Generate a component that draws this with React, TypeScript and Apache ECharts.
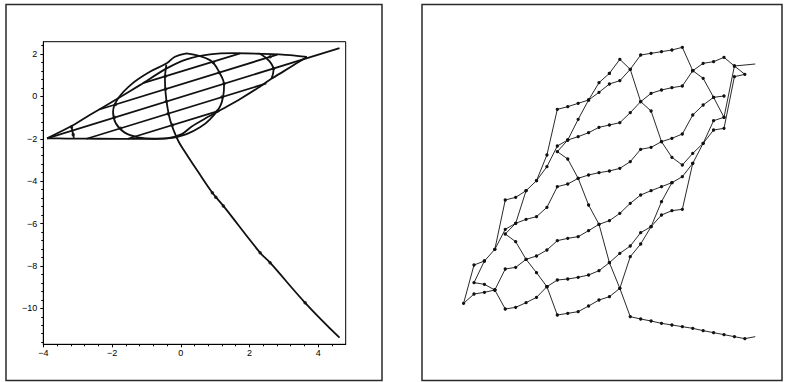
import React, { useEffect, useRef } from 'react';
import * as echarts from 'echarts';

// ---------- Left panel: tick values ----------
const xTickValues = [-4, -2, 0, 2, 4];
const yTickValues = [-10, -8, -6, -4, -2, 0, 2];
const xMinorTicks = [-3.6, -3.2, -2.8, -2.4, -1.6, -1.2, -0.8, -0.4, 0.4, 0.8, 1.2, 1.6, 2.4, 2.8, 3.2, 3.6, 4.4];
const yMinorTicks = [2.4, 1.6, 1.2, 0.8, 0.4, -0.4, -0.8, -1.2, -1.6, -2.4, -2.8, -3.2, -3.6, -4.4, -4.8, -5.2, -5.6,
  -6.4, -6.8, -7.2, -7.6, -8.4, -8.8, -9.2, -9.6, -10.4, -10.8, -11.2, -11.6];

// ---------- Left panel: curves (x, y) ----------
const outerUpper = [[-3.89, -1.98], [-3.18, -1.40], [-2.65, -0.88], [-1.87, -0.14], [-1.19, 0.53], [-0.41, 1.32],
  [0.17, 1.75], [0.85, 1.98], [1.53, 2.04], [2.31, 2.01], [3.18, 1.95], [3.67, 1.86]];
const outerLower = [[3.67, 1.86], [3.38, 1.57], [2.99, 1.18], [2.65, 0.84], [2.21, 0.36], [1.73, -0.12], [1.24, -0.57],
  [0.76, -1.0], [0.32, -1.42], [0.03, -1.78], [-0.41, -1.98], [-1.19, -2.01], [-2.36, -2.0], [-3.33, -1.99], [-3.89, -1.98]];
const innerLoop = [[0.17, 2.03], [0.85, 1.71], [1.14, 1.08], [1.26, 0.53], [1.24, 0.06], [1.14, -0.49], [0.85, -1.08],
  [0.56, -1.46], [0.17, -1.78], [-0.31, -1.97], [-0.80, -2.0], [-1.19, -1.95], [-1.63, -1.71], [-1.89, -1.27],
  [-1.97, -0.72], [-1.82, -0.09], [-1.43, 0.58], [-0.90, 1.16], [-0.41, 1.56], [-0.17, 1.87], [0.17, 2.03]];
const tailCurve = [[-0.42, 1.50], [-0.46, 0.77], [-0.44, 0.14], [-0.39, -0.49], [-0.31, -1.12], [-0.19, -1.67],
  [-0.06, -2.14], [0.12, -2.61], [0.50, -3.55], [0.92, -4.55], [1.24, -5.17], [2.31, -7.38], [2.60, -7.85],
  [3.62, -9.74], [4.62, -11.39]];
const tailDots = [[0.92, -4.55], [1.02, -4.76], [1.24, -5.17], [2.31, -7.38], [2.60, -7.85], [3.62, -9.74]];
const crossingDots = [[-0.45, 0.95], [-0.44, 0.35], [-0.42, -0.24], [-0.37, -0.82], [-0.24, -1.35],
  [-1.9, -0.38], [-1.93, -0.99], [-1.75, -1.5], [0.95, 1.6], [1.12, 1.13], [1.26, 0.6], [1.2, -0.03],
  [1.06, -0.7], [2.7, 1.32], [2.6, 1.87], [-3.18, -1.45], [-3.13, -1.8]];
const rightArc = [[2.31, 2.01], [2.58, 1.66], [2.70, 1.24], [2.64, 0.84]];
const leftArc = [[-3.18, -1.40], [-3.15, -1.67], [-3.11, -1.96]];
const chordMain = [[-3.89, -1.98], [4.62, 2.28]];
const chordUp1 = [[-2.37, -0.62], [2.81, 1.97]];
const chordUp2 = [[-1.10, 0.62], [1.73, 2.03]];
const chordDown1 = [[-2.74, -2.0], [2.49, 0.61]];
const chordDown2 = [[-1.54, -2.0], [1.13, -0.67]];

// ---------- Right panel: mesh polylines (column k, vertical position) ----------
const meshA = [[-2, 542], [-1, 465], [0, 328], [1, 320], [2, 310], [3, 300], [4, 277], [5, 252], [6, 242], [7, 208],
  [8, 165], [9, 160], [10, 155], [11, 150], [12, 142], [13, 212], [14, 190], [15, 185], [16, 172], [17, 198],
  [18, 223], [17, 230], [16, 385], [15, 390], [14, 430], [13, 490], [12, 628], [11, 632], [10, 645], [9, 680],
  [8, 698], [7, 738], [6, 760], [5, 788], [4, 812], [3, 825], [2, 832], [1, 837], [0, 840], [-1, 860]];
const meshB = [[5, 220], [4, 248], [3, 300], [2, 358], [1, 420], [0, 455], [1, 477], [2, 535], [3, 615], [4, 673],
  [5, 788], [6, 865], [7, 950], [8, 957], [9, 963], [10, 970], [11, 975], [12, 980], [13, 985], [14, 992],
  [15, 998], [16, 1004], [17, 1010], [18, 1016], [19, 1010]];
const meshC = [[5, 220], [6, 178], [7, 208], [8, 305], [9, 333], [10, 425], [11, 472], [12, 495], [13, 460],
  [14, 430], [15, 362], [16, 352], [17, 198], [19, 192]];
const meshD = [[13, 212], [12, 258], [11, 263], [10, 270], [9, 280], [8, 305], [7, 338], [6, 368], [5, 375],
  [4, 382], [3, 398], [2, 410], [1, 420], [0, 438], [-1, 500], [-2, 542], [-3, 572], [-4, 592], [-5, 600],
  [-6, 748], [-7, 783], [-8, 795], [-9, 910], [-8, 882], [-7, 877], [-6, 870], [-5, 927], [-4, 922], [-3, 908],
  [-2, 892], [-1, 860], [0, 945], [1, 940], [2, 935], [3, 918], [4, 900], [5, 890], [6, 865], [7, 770], [8, 732],
  [9, 680], [10, 605], [11, 548], [12, 530], [13, 490]];
const meshE = [[-6, 748], [-5, 688], [-4, 670], [-3, 658], [-2, 650], [-1, 622], [0, 560], [1, 552], [2, 535],
  [3, 525], [4, 518], [5, 513], [6, 505], [7, 485], [8, 448], [9, 442], [10, 425], [11, 415], [12, 402], [13, 345],
  [14, 315], [15, 292], [16, 288]];
const meshF = [[-6, 870], [-5, 807], [-4, 802], [-3, 778], [-2, 768], [-1, 750], [0, 722], [1, 715], [2, 710],
  [3, 692], [4, 673], [5, 662], [6, 640], [7, 610], [8, 585], [9, 572], [10, 560], [11, 548]];
const meshG = [[-3, 572], [-4, 670], [-5, 702], [-4, 725], [-3, 778], [-2, 818], [-1, 860]];
const meshH = [[-6, 870], [-7, 853], [-8, 848], [-7, 783]];
const meshI = [[13, 212], [14, 235], [15, 292], [16, 352]];
const meshLines = [meshA, meshB, meshC, meshD, meshE, meshF, meshG, meshH, meshI];
const lastColumn = 19;

const minus = (v: number) => String(v).replace('-', '\u2212');

export default function App() {
  const ref = useRef<HTMLDivElement>(null);
  useEffect(() => {
    if (!ref.current) return;
    const chart = echarts.init(ref.current, null, { renderer: 'svg' });
    const ink = '#111';
    const leftLine = (data: number[][], smooth: number | boolean) => ({
      type: 'line', xAxisIndex: 0, yAxisIndex: 0, data, smooth, symbol: 'none',
      lineStyle: { color: ink, width: 1.8 }, silent: true,
    });
    const meshSeries = meshLines.map((pts) => ({
      type: 'line', xAxisIndex: 2, yAxisIndex: 2,
      data: pts.map((p) => (p[0] === lastColumn ? { value: p, symbol: 'none' } : p)),
      symbol: 'circle', symbolSize: 3.3, showAllSymbol: true,
      lineStyle: { color: ink, width: 0.9 }, itemStyle: { color: ink }, silent: true,
    }));
    const labelFont = { fontFamily: 'Liberation Sans, Arial, sans-serif', fontSize: 9, color: '#000' };
    chart.setOption({
      animation: false,
      backgroundColor: '#fff',
      grid: [
        { left: 43.3, top: 41.7, width: 302.4, height: 302.6, show: true, borderColor: '#000', borderWidth: 1 },
        { left: 453.17, top: 0, width: 312.5, height: 382, show: false },
      ],
      xAxis: [
        {
          type: 'value', gridIndex: 0, min: -4, max: 4.8,
          axisLine: { show: true, onZero: false, lineStyle: { color: '#000', width: 1 } },
          axisTick: { show: true, length: 3, customValues: xTickValues, lineStyle: { color: '#000' } },
          axisLabel: { show: true, margin: 4, customValues: xTickValues, formatter: minus, ...labelFont },
          splitLine: { show: false },
        },
        {
          type: 'value', gridIndex: 0, min: -4, max: 4.8, position: 'bottom',
          axisLine: { show: false, onZero: false },
          axisTick: { show: true, length: 2, customValues: xMinorTicks, lineStyle: { color: '#000' } },
          axisLabel: { show: false }, splitLine: { show: false },
        },
        { type: 'value', gridIndex: 1, min: -10, max: 20, show: false },
      ],
      yAxis: [
        {
          type: 'value', gridIndex: 0, min: -11.7, max: 2.58,
          axisLine: { show: true, onZero: false, lineStyle: { color: '#000', width: 1 } },
          axisTick: { show: true, length: 3, customValues: yTickValues, lineStyle: { color: '#000' } },
          axisLabel: { show: true, margin: 6, customValues: yTickValues, formatter: minus, ...labelFont },
          splitLine: { show: false },
        },
        {
          type: 'value', gridIndex: 0, min: -11.7, max: 2.58, position: 'left',
          axisLine: { show: false, onZero: false },
          axisTick: { show: true, length: 2, customValues: yMinorTicks, lineStyle: { color: '#000' } },
          axisLabel: { show: false }, splitLine: { show: false },
        },
        { type: 'value', gridIndex: 1, min: 0, max: 1146, inverse: true, show: false },
      ],
      graphic: [
        { type: 'rect', shape: { x: 6, y: 4.5, width: 376, height: 376 }, style: { fill: 'none', stroke: '#2a2a2a', lineWidth: 1.5 }, silent: true },
        { type: 'rect', shape: { x: 422, y: 4.5, width: 360, height: 376 }, style: { fill: 'none', stroke: '#2a2a2a', lineWidth: 1.5 }, silent: true },
      ],
      series: [
        leftLine(outerUpper, 0.3),
        leftLine(outerLower, 0.3),
        leftLine(innerLoop, 0.4),
        leftLine(tailCurve, 0.4),
        leftLine(rightArc, 0.4),
        leftLine(leftArc, 0.4),
        leftLine(chordMain, false),
        leftLine(chordUp1, false),
        leftLine(chordUp2, false),
        leftLine(chordDown1, false),
        leftLine(chordDown2, false),
        {
          type: 'scatter', xAxisIndex: 0, yAxisIndex: 0, data: tailDots.concat(crossingDots), symbol: 'circle',
          symbolSize: 3.5, itemStyle: { color: ink }, silent: true,
        },
        ...meshSeries,
      ],
    });
    return () => chart.dispose();
  }, []);
  return <div ref={ref} style={{ position: 'absolute', left: 0, top: 0, width: 788, height: 382 }} />;
}
